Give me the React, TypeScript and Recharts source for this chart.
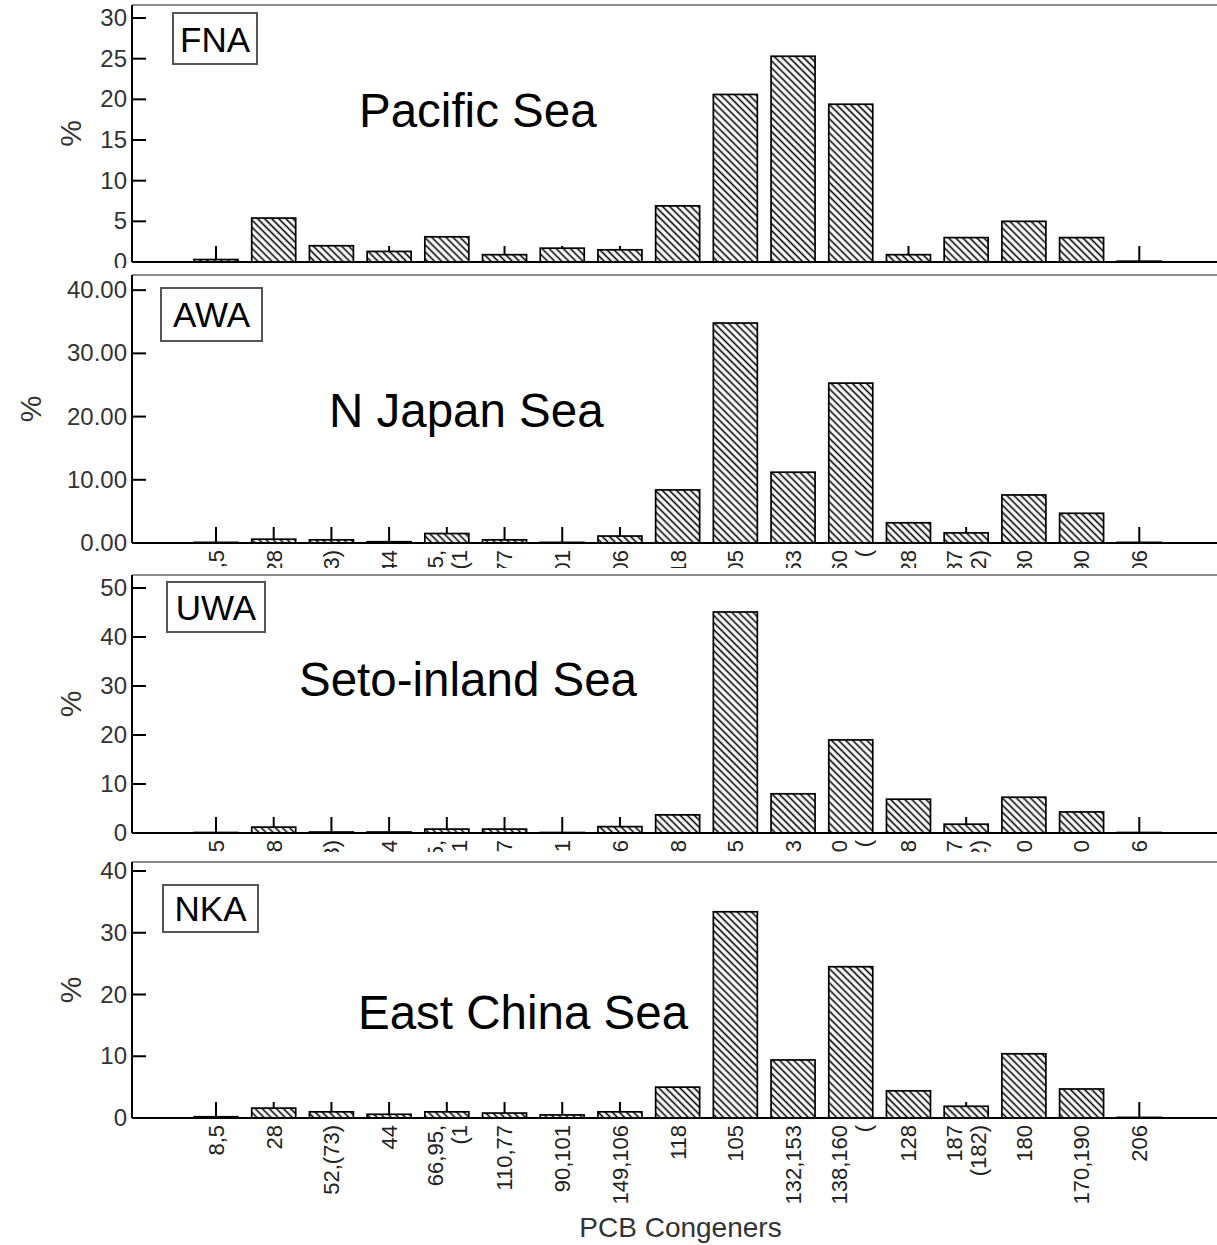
import { BarChart, Bar, XAxis, YAxis, ReferenceLine } from "recharts";

// PCB congener groups (x axis), "\n" marks a second label line
const congeners = [
  "8,5", "28", "52,(73)", "44", "66,95,\n(1", "110,77", "90,101", "149,106", "118",
  "105", "132,153", "138,160\n(", "128", "187\n(182)", "180", "170,190", "206",
];

// % composition per site
const fnaPacific = [0.3, 5.4, 2.0, 1.3, 3.1, 0.9, 1.7, 1.5, 6.9, 20.6, 25.3, 19.4, 0.9, 3.0, 5.0, 3.0, 0.1];
const awaJapan = [0.1, 0.6, 0.5, 0.2, 1.5, 0.5, 0.1, 1.1, 8.4, 34.8, 11.2, 25.3, 3.2, 1.6, 7.6, 4.7, 0.1];
const uwaSeto = [0.1, 1.2, 0.2, 0.2, 0.8, 0.8, 0.1, 1.3, 3.7, 45.1, 8.0, 19.0, 6.9, 1.8, 7.3, 4.3, 0.1];
const nkaEastChina = [0.2, 1.6, 1.0, 0.6, 1.0, 0.8, 0.5, 1.0, 5.0, 33.4, 9.4, 24.5, 4.4, 1.9, 10.4, 4.7, 0.1];

// y tick labels per panel
const ticksFna = [0, 5, 10, 15, 20, 25, 30];
const ticksAwa = [0, 10, 20, 30, 40];
const ticksUwa = [0, 10, 20, 30, 40, 50];
const ticksNka = [0, 10, 20, 30, 40];

const FONT = '"Liberation Sans", Arial, sans-serif';

function HatchBar(props: any) {
  const { x, y, width, height } = props;
  const base = y + height;
  const cx = x + width / 2;
  return (
    <g>
      {/* category tick points up into the plot, hidden behind taller bars */}
      <line x1={cx} x2={cx} y1={base} y2={base - 16} stroke="#000" strokeWidth={2} />
      <rect x={x} y={y} width={width} height={Math.max(height, 0)} fill="url(#hatch)" stroke="#000" strokeWidth={1.7} />
    </g>
  );
}

function CongenerTick({ x, y, payload }: any) {
  const lines = String(payload.value).split("\n");
  const lh = 24;
  return (
    <text
      x={x}
      y={y}
      transform={`rotate(-90 ${x} ${y})`}
      textAnchor="end"
      fontSize={22}
      fill="#222"
      fontFamily={FONT}
    >
      {lines.map((t, i) => (
        <tspan key={i} x={x} dy={i === 0 ? 8 - ((lines.length - 1) * lh) / 2 : lh}>
          {t}
        </tspan>
      ))}
    </text>
  );
}

const yTick = (decimals: number) => ({ x, y, payload }: any) => (
  <g>
    <line x1={x + 5} x2={x + 19} y1={y} y2={y} stroke="#000" strokeWidth={2} />
    <text x={x} y={y} dy={8} textAnchor="end" fontSize={24} fill="#333" fontFamily={FONT}>
      {Number(payload.value).toFixed(decimals)}
    </text>
  </g>
);

const pctLabel = (px: number) => (props: any) => {
  const vb = props.viewBox || {};
  const cy = (vb.y ?? 0) + (vb.height ?? 0) / 2;
  return (
    <text
      x={px}
      y={cy}
      transform={`rotate(-90 ${px} ${cy})`}
      textAnchor="middle"
      dy={11}
      fontSize={30}
      fill="#333"
      fontFamily={FONT}
    >
      %
    </text>
  );
};

type PanelProps = {
  values: number[];
  ticks: number[];
  yMax: number;
  decimals?: number;
  top: number;
  height: number;
  axisHeight: number;
  pctX: number;
  labels?: boolean;
  title?: string;
};

function Panel({ values, ticks, yMax, decimals = 0, top, height, axisHeight, pctX, labels = true, title }: PanelProps) {
  const data = congeners.map((name, i) => ({ name, value: values[i] }));
  return (
    <div style={{ position: "absolute", left: 0, top, width: 1217, height, overflow: "hidden" }}>
      <BarChart width={1217} height={height} data={data} margin={{ top: 5, right: 0, left: 0, bottom: 0 }}>
        <XAxis
          dataKey="name"
          interval={0}
          height={axisHeight}
          padding={{ left: 55, right: 49 }}
          axisLine={{ stroke: "#000", strokeWidth: 2 }}
          tickLine={false}
          tickSize={0}
          tickMargin={7}
          tick={labels ? <CongenerTick /> : false}
          label={
            title
              ? { value: title, position: "insideBottom", offset: 8, dx: 6, fontSize: 28, fill: "#333", fontFamily: FONT }
              : undefined
          }
        />
        <YAxis
          width={132}
          domain={[0, yMax]}
          ticks={ticks}
          interval={0}
          allowDataOverflow
          axisLine={{ stroke: "#000", strokeWidth: 2 }}
          tickLine={false}
          tickSize={0}
          tickMargin={5}
          tick={yTick(decimals)}
          label={{ content: pctLabel(pctX) }}
        />
        <ReferenceLine y={yMax} stroke="#8c8c8c" strokeWidth={2} />
        <Bar dataKey="value" barSize={44} shape={<HatchBar />} isAnimationActive={false} />
      </BarChart>
    </div>
  );
}

export default function App() {
  return (
    <div style={{ position: "absolute", left: 0, top: 0, width: 1217, height: 1245, background: "#fff", fontFamily: FONT }}>
      <svg width={0} height={0} style={{ position: "absolute" }}>
        <defs>
          <pattern id="hatch" width={5} height={5} patternUnits="userSpaceOnUse" patternTransform="rotate(-45)">
            <rect width={5} height={5} fill="#fff" />
            <line x1={2.5} y1={0} x2={2.5} y2={5} stroke="#000" strokeWidth={1.6} />
          </pattern>
        </defs>
      </svg>

      <Panel values={fnaPacific} ticks={ticksFna} yMax={31.6} top={0} height={268} axisHeight={6} pctX={70} labels={false} />
      <Panel values={awaJapan} ticks={ticksAwa} yMax={42.4} decimals={2} top={270} height={298} axisHeight={25} pctX={30} />
      <Panel values={uwaSeto} ticks={ticksUwa} yMax={52.65} top={570} height={282} axisHeight={19} pctX={70} />
      <Panel values={nkaEastChina} ticks={ticksNka} yMax={41.46} top={857} height={388} axisHeight={127} pctX={70} title="PCB Congeners" />

      <svg width={1217} height={1245} style={{ position: "absolute", left: 0, top: 0, pointerEvents: "none" }}>
        <g fontFamily={FONT} fill="#000">
          <rect x={173} y={13} width={84} height={51} fill="#fff" stroke="#555" strokeWidth={2} />
          <text x={215} y={52} fontSize={35} textAnchor="middle">FNA</text>
          <rect x={161} y={288} width={101} height={53} fill="#fff" stroke="#555" strokeWidth={2} />
          <text x={211.5} y={327} fontSize={35} textAnchor="middle">AWA</text>
          <rect x={167} y={582} width={98} height={50} fill="#fff" stroke="#555" strokeWidth={2} />
          <text x={216} y={620} fontSize={35} textAnchor="middle">UWA</text>
          <rect x={163} y={885} width={95} height={47} fill="#fff" stroke="#555" strokeWidth={2} />
          <text x={210.5} y={921} fontSize={35} textAnchor="middle">NKA</text>

          <text x={359} y={127} fontSize={47.5}>Pacific Sea</text>
          <text x={329} y={427} fontSize={47.5}>N Japan Sea</text>
          <text x={299} y={696} fontSize={47.5}>Seto-inland Sea</text>
          <text x={358} y={1029} fontSize={47.5}>East China Sea</text>
        </g>
      </svg>
    </div>
  );
}
